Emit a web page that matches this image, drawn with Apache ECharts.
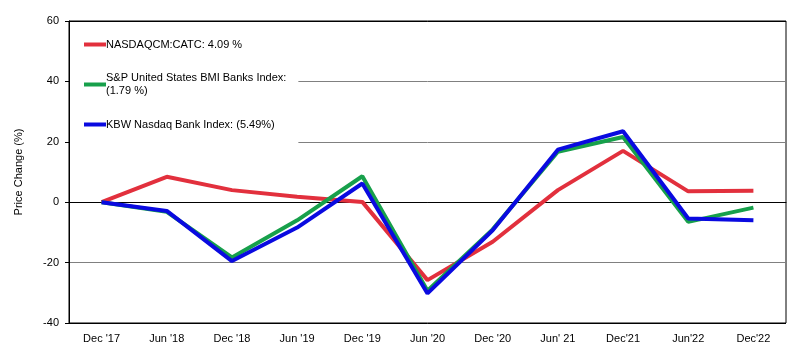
<!DOCTYPE html>
<html>
<head>
<meta charset="utf-8">
<script src="https://cdn.jsdelivr.net/npm/echarts@6/dist/echarts.min.js"></script>
<style>html,body{margin:0;padding:0;background:#fff;}#c{width:802px;height:360px;}</style>
</head>
<body>
<div id="c"></div>
<script>
var categories = ["Dec '17", "Jun '18", "Dec '18", "Jun '19", "Dec '19", "Jun '20", "Dec '20", "Jun' 21", "Dec'21", "Jun'22", "Dec'22"];
var nasdaqCatc = [0, 8.4, 4.0, 1.8, 0.1, -25.8, -13.1, 4.0, 17.0, 3.6, 3.8];
var spBanks = [0, -3.2, -18.3, -6.0, 8.6, -29.3, -9.0, 16.7, 21.6, -6.5, -1.8];
var kbwBanks = [0, -2.9, -19.5, -8.4, 6.2, -30.2, -9.3, 17.4, 23.5, -5.4, -6.0];
var seriesNames = ["NASDAQCM:CATC: 4.09 %", "S&P United States BMI Banks Index:\n(1.79 %)", "KBW Nasdaq Bank Index: (5.49%)"];
var yTicks = { min: -40, max: 60, interval: 20 };

var font = 'Arial, "Liberation Sans", sans-serif';
var chart = echarts.init(document.getElementById('c'), null, { renderer: 'canvas' });
chart.setOption({
  animation: false,
  backgroundColor: '#fff',
  grid: { left: 69, right: 16, top: 21, bottom: 37, show: true, borderColor: '#000', borderWidth: 1, backgroundColor: 'transparent' },
  legend: {
    orient: 'vertical',
    left: 70, top: 22,
    padding: [16, 12, 13, 14],
    itemGap: 14,
    itemWidth: 22, itemHeight: 4,
    icon: 'rect',
    backgroundColor: '#fff',
    textStyle: { fontFamily: font, fontSize: 11, color: '#000', lineHeight: 13, padding: [0, 0, 0, -5] },
    data: [
      { name: seriesNames[0] },
      { name: seriesNames[1], textStyle: { fontFamily: font, fontSize: 11, color: '#000', lineHeight: 13, padding: [13, 0, 0, -5] } },
      { name: seriesNames[2] }
    ]
  },
  xAxis: {
    type: 'category',
    data: categories,
    boundaryGap: true,
    axisLine: { show: true, lineStyle: { color: '#000', width: 1 } },
    axisTick: { show: false },
    axisLabel: { fontFamily: font, fontSize: 11, color: '#000', margin: 10 },
    splitLine: { show: false }
  },
  yAxis: {
    type: 'value',
    min: yTicks.min, max: yTicks.max, interval: yTicks.interval,
    name: 'Price Change (%)',
    nameLocation: 'middle',
    nameGap: 45,
    nameTextStyle: { fontFamily: font, fontSize: 11, color: '#000' },
    axisLine: { show: true, lineStyle: { color: '#000', width: 1 } },
    axisTick: { show: true, length: 4, inside: false, lineStyle: { color: '#000' } },
    axisLabel: { fontFamily: font, fontSize: 11, color: '#000', margin: 10 },
    splitLine: { show: true, lineStyle: { color: ['#000', '#808080', '#000', '#808080', '#808080', '#000'], width: 1 } }
  },
  series: [
    { name: seriesNames[0], type: 'line', data: nasdaqCatc, showSymbol: false, symbol: 'none', color: '#e2303d', lineStyle: { width: 4, color: '#e2303d' } },
    { name: seriesNames[1], type: 'line', data: spBanks, showSymbol: false, symbol: 'none', color: '#17a04b', lineStyle: { width: 4, color: '#17a04b' } },
    { name: seriesNames[2], type: 'line', data: kbwBanks, showSymbol: false, symbol: 'none', color: '#0a0ae0', lineStyle: { width: 4, color: '#0a0ae0' } }
  ]
});
</script>
</body>
</html>
